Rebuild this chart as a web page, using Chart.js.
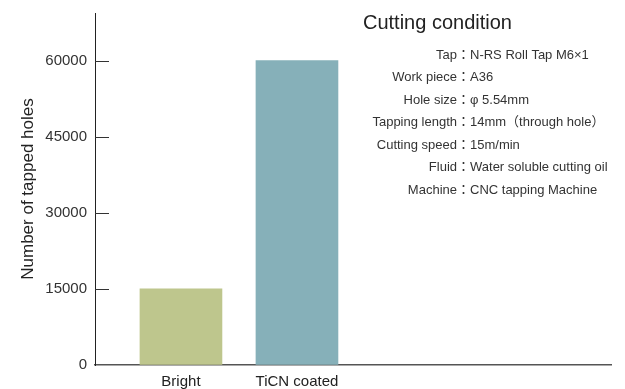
<!DOCTYPE html>
<html>
<head>
<meta charset="utf-8">
<script src="https://cdn.jsdelivr.net/npm/chart.js@4/dist/chart.umd.min.js"></script>
<style>
  html, body { margin: 0; padding: 0; background: #fff; }
</style>
</head>
<body>
<canvas id="tapChart" width="625" height="389"></canvas>
<script>
// Tool life: number of tapped holes, bright vs TiCN coated roll tap
const categories = ['Bright', 'TiCN coated'];
const tappedHoles = [15000, 60000];
const barColors = ['#bec68d', '#86b0b9'];
const yTicks = [0, 15000, 30000, 45000, 60000];

const conditionTitle = 'Cutting condition';
const conditionLabels = ['Tap', 'Work piece', 'Hole size', 'Tapping length', 'Cutting speed', 'Fluid', 'Machine'];
const conditionValues = ['N-RS Roll Tap M6×1', 'A36', 'φ 5.54mm', '14mm（through hole）', '15m/min', 'Water soluble cutting oil', 'CNC tapping Machine'];

const FONT = '"Liberation Sans", Arial, "Noto Sans CJK JP", sans-serif';

// short tick marks pointing into the plot from the y axis
const innerTicks = {
  id: 'innerTicks',
  afterDatasetsDraw(chart) {
    const y = chart.scales.y;
    const ctx = chart.ctx;
    ctx.save();
    ctx.strokeStyle = '#333';
    ctx.lineWidth = 1;
    yTicks.slice(1).forEach(v => {
      const py = Math.round(y.getPixelForValue(v)) + 0.5;
      ctx.beginPath();
      ctx.moveTo(y.right, py);
      ctx.lineTo(y.right + 14, py);
      ctx.stroke();
    });
    ctx.restore();
  }
};

// cutting condition block on the right
const conditionBox = {
  id: 'conditionBox',
  afterDraw(chart) {
    const ctx = chart.ctx;
    ctx.save();
    ctx.fillStyle = '#222';
    ctx.textBaseline = 'middle';
    ctx.font = '20px ' + FONT;
    ctx.textAlign = 'left';
    ctx.fillText(conditionTitle, 363, 23);

    ctx.font = '13px ' + FONT;
    ctx.fillStyle = '#333';
    conditionLabels.forEach((label, i) => {
      const y = 55 + i * 22.5;
      ctx.textAlign = 'right';
      ctx.fillText(label + '：', 470, y);
      ctx.textAlign = 'left';
      ctx.fillText(conditionValues[i], 470, y);
    });
    ctx.restore();
  }
};

new Chart(document.getElementById('tapChart'), {
  type: 'bar',
  data: {
    datasets: [{
      data: categories.map((c, i) => ({ x: i + 1, y: tappedHoles[i] })),
      backgroundColor: barColors,
      barThickness: 82
    }]
  },
  options: {
    responsive: false,
    animation: false,
    layout: { padding: { top: 13, right: 14, left: 0, bottom: 0 } },
    plugins: { legend: { display: false }, tooltip: { enabled: false } },
    scales: {
      x: {
        type: 'linear',
        offset: false,
        min: 0.259,
        max: 4.707,
        afterBuildTicks: s => { s.ticks = categories.map((c, i) => ({ value: i + 1 })); },
        afterFit: s => { s.height = 24; s.paddingLeft = 0; s.paddingRight = 0; },
        grid: { display: true, drawOnChartArea: false, drawTicks: false },
        border: { display: true, color: '#555', width: 1.5 },
        ticks: {
          autoSkip: false,
          maxRotation: 0,
          padding: 8,
          color: '#222',
          font: { family: FONT, size: 15 },
          callback: v => categories[v - 1]
        }
      },
      y: {
        min: 0,
        max: 69400,
        afterBuildTicks: s => { s.ticks = yTicks.map(v => ({ value: v })); },
        afterFit: s => { s.width = 95; s.paddingTop = 0; s.paddingBottom = 0; },
        grid: { display: true, drawOnChartArea: false, drawTicks: false },
        border: { display: true, color: '#222', width: 1 },
        ticks: {
          padding: 8,
          color: '#333',
          font: { family: FONT, size: 15 },
          callback: v => String(v)
        },
        title: {
          display: true,
          text: 'Number of tapped holes',
          color: '#222',
          font: { family: FONT, size: 17 },
          padding: { top: 18, bottom: 0 }
        }
      }
    }
  },
  plugins: [innerTicks, conditionBox]
});
</script>
</body>
</html>
